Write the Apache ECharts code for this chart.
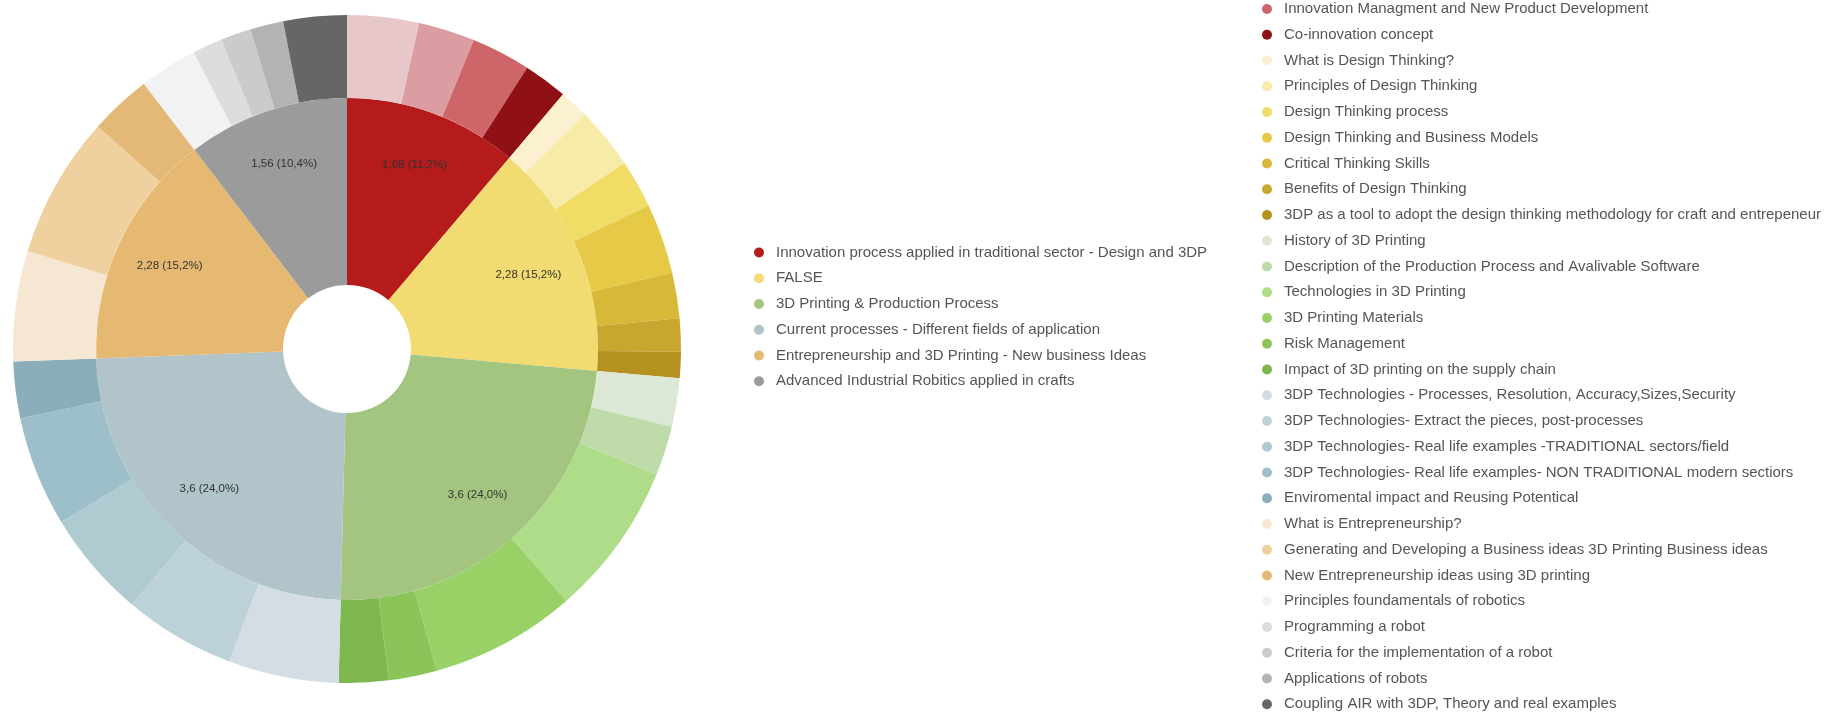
<!DOCTYPE html>
<html>
<head>
<meta charset="utf-8">
<script src="https://cdn.jsdelivr.net/npm/echarts@6/dist/echarts.min.js"></script>
<style>
html,body{margin:0;padding:0;background:#fff;}
#chart{width:1825px;height:713px;}
</style>
</head>
<body>
<div id="chart"></div>
<script>
// Inner ring: main modules
const moduleNames = [
  "Innovation process applied in traditional sector - Design and 3DP",
  "FALSE",
  "3D Printing & Production Process",
  "Current processes - Different fields of application",
  "Entrepreneurship and 3D Printing - New business Ideas",
  "Advanced Industrial Robitics applied in crafts"
];
const moduleValues = [1.68, 2.28, 3.6, 3.6, 2.28, 1.56];
const moduleColors = ["#B51B1B", "#F2DC72", "#A3C580", "#B0C4C9", "#E5B971", "#9B9B9B"];

// Outer ring: units (the first two are hidden above the legend in the reference)
const unitNames = [
  "Innovation unit 1",
  "Innovation unit 2",
  "Innovation Managment and New Product Development",
  "Co-innovation concept",
  "What is Design Thinking?",
  "Principles of Design Thinking",
  "Design Thinking process",
  "Design Thinking and Business Models",
  "Critical Thinking Skills",
  "Benefits of Design Thinking",
  "3DP as a tool to adopt the design thinking methodology for craft and entrepeneur",
  "History of 3D Printing",
  "Description of the Production Process and Avalivable Software",
  "Technologies in 3D Printing",
  "3D Printing Materials",
  "Risk Management",
  "Impact of 3D printing on the supply chain",
  "3DP Technologies - Processes, Resolution, Accuracy,Sizes,Security",
  "3DP Technologies- Extract the pieces, post-processes",
  "3DP Technologies- Real life examples -TRADITIONAL sectors/field",
  "3DP Technologies- Real life examples- NON TRADITIONAL modern sectiors",
  "Enviromental impact and Reusing Potentical",
  "What is Entrepreneurship?",
  "Generating and Developing a Business ideas 3D Printing Business ideas",
  "New Entrepreneurship ideas using 3D printing",
  "Principles foundamentals of robotics",
  "Programming a robot",
  "Criteria for the implementation of a robot",
  "Applications of robots",
  "Coupling AIR with 3DP, Theory and real examples"
];
const unitValues = [
  0.52, 0.41, 0.43, 0.32,
  0.21, 0.45, 0.35, 0.51, 0.33, 0.24, 0.19,
  0.35, 0.36, 1.12, 1.06, 0.35, 0.36,
  0.80, 0.81, 0.78, 0.80, 0.41,
  0.80, 1.03, 0.45,
  0.42, 0.22, 0.22, 0.24, 0.46
];
const unitColors = [
  "#E8C7CA", "#DC9DA2", "#CD6569", "#8F1115",
  "#FBF1D0", "#F7EBA8", "#F1DC66", "#E6CA47", "#D7B838", "#C9A72E", "#B59120",
  "#DDE8D4", "#BFDBAA", "#AEDC88", "#99D167", "#8BC459", "#7DB74D",
  "#D3DDE3", "#BCD2D8", "#B0CAD2", "#9DBFC9", "#8BAFBA",
  "#F6E7D2", "#EFD09F", "#E4B978",
  "#F1F2F3", "#DDDDDD", "#CBCBCB", "#B3B3B3", "#666666"
];
// units shown in the right legend (the first two are cut off in the reference)
const unitLegend = unitNames.slice(2);

const chart = echarts.init(document.getElementById('chart'), null, {renderer: 'canvas'});

const innerData = moduleNames.map((n, i) => ({name: n, value: moduleValues[i], itemStyle: {color: moduleColors[i]}}));
const labelData = moduleNames.map((n, i) => ({name: n, value: moduleValues[i]}));
const outerData = unitNames.map((n, i) => ({name: n, value: unitValues[i], itemStyle: {color: unitColors[i]}}));

const fmt = p => String(p.value).replace('.', ',') + ' (' + p.percent.toFixed(1).replace('.', ',') + '%)';

const legendText = {color: '#555', fontSize: 15, fontFamily: 'Liberation Sans, Arial, sans-serif'};

chart.setOption({
  animation: false,
  legend: [
    {
      orient: 'vertical', left: 749, top: 240, height: 300,
      data: moduleNames, icon: 'circle', itemWidth: 24, itemHeight: 10, itemGap: 10.75,
      textStyle: legendText, selectedMode: false
    },
    {
      orient: 'vertical', left: 1257, top: -3.5, height: 760,
      data: unitLegend, icon: 'circle', itemWidth: 24, itemHeight: 10, itemGap: 10.75,
      textStyle: legendText, selectedMode: false
    }
  ],
  series: [
    {
      type: 'pie', center: [347, 349], radius: [64, 251],
      startAngle: 90, clockwise: true, avoidLabelOverlap: false,
      label: {show: false}, labelLine: {show: false},
      emphasis: {disabled: true},
      data: innerData
    },
    {
      type: 'pie', center: [347, 349], radius: [251, 334],
      startAngle: 90, clockwise: true, avoidLabelOverlap: false,
      label: {show: false}, labelLine: {show: false},
      emphasis: {disabled: true},
      data: outerData
    },
    {
      type: 'pie', center: [347, 349], radius: [135, 251],
      startAngle: 90, clockwise: true, avoidLabelOverlap: false, silent: true,
      itemStyle: {color: 'rgba(0,0,0,0)'},
      label: {show: true, position: 'inside', formatter: fmt, color: '#333', fontSize: 11.5,
              fontFamily: 'Liberation Sans, Arial, sans-serif'},
      labelLine: {show: false},
      emphasis: {disabled: true},
      data: labelData
    }
  ]
});
</script>
</body>
</html>
